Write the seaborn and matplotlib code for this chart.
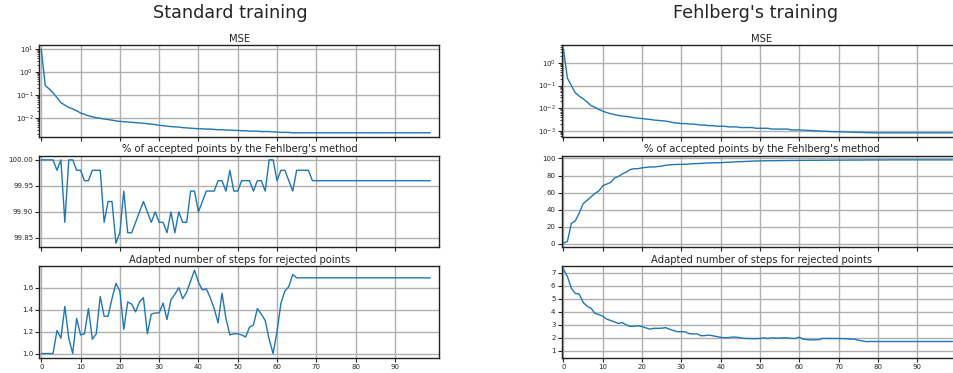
import numpy as np
import pandas as pd
import matplotlib
matplotlib.use("Agg")
import matplotlib.pyplot as plt
import seaborn as sb
from matplotlib.ticker import MultipleLocator

sb.set_style("ticks")
plt.rcParams['font.family'] = ['DejaVu Sans']

epochs = list(range(100))
xticks = list(range(0, 100, 10))

# Standard training
std_mse = [9.5, 0.25, 0.18, 0.12, 0.075, 0.045, 0.035, 0.028, 0.024, 0.020,
           0.016, 0.014, 0.012, 0.011, 0.010, 0.0094, 0.0088, 0.0083, 0.0078, 0.0073,
           0.0069, 0.0067, 0.0065, 0.0063, 0.0061, 0.0059, 0.0057, 0.0055, 0.0052, 0.0050,
           0.0047, 0.0045, 0.0043, 0.0041, 0.0040, 0.0039, 0.0037, 0.0036, 0.0035, 0.0034,
           0.0033, 0.0033, 0.0032, 0.0032, 0.0031, 0.0030, 0.0030, 0.0029, 0.0029, 0.0028,
           0.0028, 0.0027, 0.0027, 0.0026, 0.0026, 0.0026, 0.0025, 0.0025, 0.0025, 0.0024,
           0.0024, 0.0023, 0.0023, 0.0023, 0.0022, 0.0022, 0.0022, 0.0022, 0.0022, 0.0022,
           0.0022, 0.0022, 0.0022, 0.0022, 0.0022, 0.0022, 0.0022, 0.0022, 0.0022, 0.0022,
           0.0022, 0.0022, 0.0022, 0.0022, 0.0022, 0.0022, 0.0022, 0.0022, 0.0022, 0.0022,
           0.0022, 0.0022, 0.0022, 0.0022, 0.0022, 0.0022, 0.0022, 0.0022, 0.0022, 0.0022]

std_acc = [100.00, 100.00, 100.00, 100.00, 99.98, 100.00, 99.88, 100.00, 100.00, 99.98,
           99.98, 99.96, 99.96, 99.98, 99.98, 99.98, 99.88, 99.92, 99.92, 99.84,
           99.86, 99.94, 99.86, 99.86, 99.88, 99.90, 99.92, 99.90, 99.88, 99.90,
           99.88, 99.88, 99.86, 99.90, 99.86, 99.90, 99.88, 99.88, 99.94, 99.94,
           99.90, 99.92, 99.94, 99.94, 99.94, 99.96, 99.96, 99.94, 99.98, 99.94,
           99.94, 99.96, 99.96, 99.96, 99.94, 99.96, 99.96, 99.94, 100.00, 100.00,
           99.96, 99.98, 99.98, 99.96, 99.94, 99.98, 99.98, 99.98, 99.98, 99.96,
           99.96, 99.96, 99.96, 99.96, 99.96, 99.96, 99.96, 99.96, 99.96, 99.96,
           99.96, 99.96, 99.96, 99.96, 99.96, 99.96, 99.96, 99.96, 99.96, 99.96,
           99.96, 99.96, 99.96, 99.96, 99.96, 99.96, 99.96, 99.96, 99.96, 99.96]

std_steps = [1.00, 1.00, 1.00, 1.00, 1.21, 1.14, 1.43, 1.14, 1.00, 1.32,
             1.17, 1.18, 1.41, 1.13, 1.18, 1.52, 1.34, 1.34, 1.50, 1.64,
             1.57, 1.22, 1.47, 1.45, 1.38, 1.47, 1.51, 1.18, 1.36, 1.37,
             1.37, 1.46, 1.31, 1.49, 1.54, 1.60, 1.50, 1.56, 1.66, 1.76,
             1.65, 1.58, 1.59, 1.51, 1.41, 1.28, 1.55, 1.32, 1.17, 1.18,
             1.18, 1.17, 1.15, 1.24, 1.26, 1.41, 1.36, 1.30, 1.13, 1.00,
             1.20, 1.46, 1.57, 1.61, 1.72, 1.69, 1.69, 1.69, 1.69, 1.69,
             1.69, 1.69, 1.69, 1.69, 1.69, 1.69, 1.69, 1.69, 1.69, 1.69,
             1.69, 1.69, 1.69, 1.69, 1.69, 1.69, 1.69, 1.69, 1.69, 1.69,
             1.69, 1.69, 1.69, 1.69, 1.69, 1.69, 1.69, 1.69, 1.69, 1.69]

# Fehlberg's training
feh_mse = [4.0, 0.21, 0.10, 0.048, 0.034, 0.026, 0.019, 0.013, 0.011, 0.0088,
           0.0074, 0.0064, 0.0057, 0.0052, 0.0048, 0.0045, 0.0043, 0.0041, 0.0038, 0.0036,
           0.0035, 0.0033, 0.0032, 0.0030, 0.0029, 0.0028, 0.0027, 0.0025, 0.0023, 0.0022,
           0.0021, 0.0021, 0.0020, 0.0020, 0.0019, 0.0018, 0.0018, 0.0017, 0.0017, 0.0016,
           0.0016, 0.0016, 0.0015, 0.0015, 0.0015, 0.0014, 0.0014, 0.0014, 0.0014, 0.0013,
           0.0013, 0.0013, 0.0013, 0.0012, 0.0012, 0.0012, 0.0012, 0.0012, 0.0011, 0.0011,
           0.0011, 0.00108, 0.00105, 0.00103, 0.00101, 0.00099, 0.00097, 0.00095, 0.00093, 0.00092,
           0.00091, 0.00090, 0.00089, 0.00088, 0.00087, 0.00086, 0.00085, 0.00084, 0.00083, 0.00082,
           0.00082, 0.00082, 0.00082, 0.00082, 0.00082, 0.00082, 0.00082, 0.00082, 0.00082, 0.00082,
           0.00082, 0.00082, 0.00082, 0.00082, 0.00082, 0.00082, 0.00082, 0.00082, 0.00082, 0.00082]

feh_acc = [1.0, 3.0, 24.0, 27.0, 36.0, 47.0, 51.0, 55.0, 59.0, 62.0,
           68.0, 70.0, 72.0, 77.0, 79.0, 82.0, 84.0, 87.0, 88.0, 88.0,
           89.0, 89.5, 90.0, 90.0, 90.5, 91.0, 92.0, 92.5, 92.8, 93.0,
           93.0, 93.2, 93.5, 93.8, 94.0, 94.2, 94.5, 94.7, 94.8, 95.0,
           95.0, 95.3, 95.5, 95.8, 96.0, 96.2, 96.4, 96.6, 96.8, 97.0,
           97.1, 97.2, 97.3, 97.3, 97.4, 97.4, 97.5, 97.5, 97.6, 97.6,
           97.7, 97.7, 97.7, 97.8, 97.8, 97.8, 97.9, 97.9, 97.9, 98.0,
           98.0, 98.0, 98.0, 98.1, 98.1, 98.1, 98.1, 98.2, 98.2, 98.2,
           98.2, 98.2, 98.2, 98.3, 98.3, 98.3, 98.3, 98.3, 98.3, 98.3,
           98.3, 98.3, 98.3, 98.3, 98.3, 98.3, 98.3, 98.3, 98.3, 98.3]

feh_steps = [7.25, 6.70, 5.80, 5.40, 5.35, 4.72, 4.42, 4.27, 3.88, 3.78,
             3.66, 3.43, 3.33, 3.22, 3.10, 3.17, 2.98, 2.88, 2.88, 2.93,
             2.86, 2.76, 2.67, 2.73, 2.73, 2.74, 2.78, 2.66, 2.56, 2.47,
             2.47, 2.46, 2.32, 2.30, 2.31, 2.16, 2.17, 2.21, 2.16, 2.10,
             2.04, 2.00, 2.02, 2.06, 2.05, 2.00, 1.96, 1.95, 1.94, 1.94,
             1.95, 2.00, 1.95, 2.00, 1.98, 1.98, 2.00, 2.00, 1.96, 1.95,
             2.05, 1.90, 1.86, 1.85, 1.85, 1.86, 1.96, 1.95, 1.95, 1.95,
             1.95, 1.94, 1.93, 1.90, 1.90, 1.82, 1.77, 1.71, 1.72, 1.72,
             1.72, 1.72, 1.72, 1.72, 1.72, 1.72, 1.72, 1.72, 1.72, 1.72,
             1.72, 1.72, 1.72, 1.72, 1.72, 1.72, 1.72, 1.72, 1.72, 1.72]

titulos = ["MSE", "% of accepted points by the Fehlberg's method",
           "Adapted number of steps for rejected points"]

W, H = 954, 373
fig = plt.figure(figsize=(W / 100, H / 100), dpi=100)

# filas en pixeles (top, bottom)
filas = [(45, 137), (155.7, 247.3), (266, 357.7)]
columnas = [(39.5, [std_mse, std_acc, std_steps]),
            (561.7, [feh_mse, feh_acc, feh_steps])]

for ci, (x0, series) in enumerate(columnas):
    for ri, (top, bot) in enumerate(filas):
        ax = fig.add_axes([x0 / W, 1 - bot / H, 399.8 / W, (bot - top) / H])
        df = pd.DataFrame({"epoch": epochs, "val": series[ri]})
        sb.lineplot(data=df, x="epoch", y="val", ax=ax, color="#1f77b4", lw=1.0)
        if ri == 0:
            ax.set_yscale("log")
        ax.set_xlim(-0.45, 101.3)
        ax.set_xticks(xticks)
        if ci == 1 and ri == 2:
            ax.set_ylim(0.48, 7.5)
            ax.yaxis.set_major_locator(MultipleLocator(1))
        ax.grid(True, which="major", color="#b0b0b0", lw=1.0)
        ax.set_axisbelow(True)
        ax.set_title(titulos[ri], fontsize=7.2, pad=2.5)
        ax.set_xlabel("")
        ax.set_ylabel("")
        ax.tick_params(axis="both", which="major", labelsize=5, length=3, width=0.8, pad=1.5)
        ax.tick_params(axis="both", which="minor", length=1.8, width=0.6)
        for s in ax.spines.values():
            s.set_color("#222222")
            s.set_linewidth(1.0)
        if ri < 2:
            ax.tick_params(axis="x", labelbottom=False)

fig.text(230.7 / W, 1 - 18.3 / H, "Standard training", ha="center", va="baseline", fontsize=12.7)
fig.text(755.5 / W, 1 - 18.3 / H, "Fehlberg's training", ha="center", va="baseline", fontsize=12.7)

fig.savefig("out.png", dpi=100)
